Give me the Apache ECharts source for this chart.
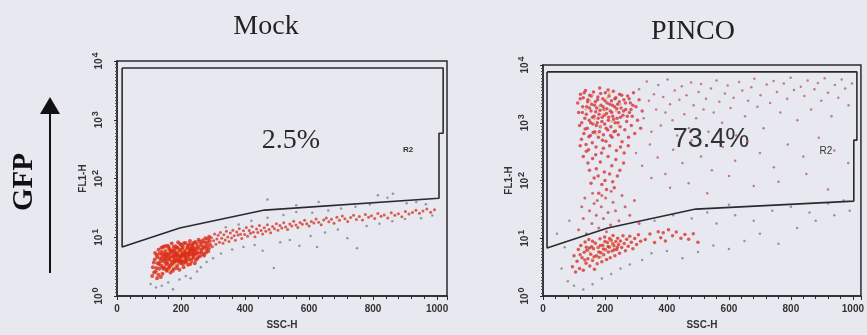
<!DOCTYPE html>
<html>
<head>
<meta charset="utf-8">
<script src="https://cdn.jsdelivr.net/npm/echarts@6/dist/echarts.min.js"></script>
<style>
html, body { margin: 0; background: #e8e8f0; }
#chart { width: 867px; height: 335px; }
</style>
</head>
<body>
<div id="chart"></div>
<script>
// tick labels
var xTicks = [0, 200, 400, 600, 800, 1000];
var yExponents = ['0', '1', '2', '3', '4'];
var panelTitles = ['Mock', 'PINCO'];
var gatePercent = ['2.5%', '73.4%'];

// R2 gates [SSC-H, FL1-H]
var mockGate = [[16,7600],[1019,7600],[1019,590],[1006,590],[1006,46],[461,29],[196,14.4],[16,6.8],[16,7600]];
var pincoGate = [[13,7600],[1013,7600],[1013,500],[1003,500],[1003,44],[493,32],[209,15],[13,6.8],[13,7600]];

// Mock events
var mockCore = [
[112,3.1],[118,4.2],[121,2.6],[124,5.0],[127,3.6],[130,6.1],[132,2.9],[135,4.4],[138,3.3],[140,5.6],[142,2.4],[144,6.8],[146,3.9],[148,4.8],[150,3.0],[151,5.9],[153,4.1],[155,2.7],[157,7.2],[158,3.5],[160,5.2],[162,4.5],[163,6.4],[165,3.2],[167,2.5],[168,5.7],[170,4.0],[171,7.8],[173,3.6],[175,6.0],[176,4.7],[178,2.9],[180,5.4],[181,3.9],[183,7.0],[185,4.3],[186,6.5],[188,3.3],[190,5.0],[191,8.2],[193,4.1],[195,2.8],[196,6.2],[198,4.6],[200,3.6],[201,7.4],[203,5.3],[205,4.0],[207,6.8],[208,3.1],[210,5.7],[212,4.4],[214,8.0],[215,3.7],[217,6.1],[219,4.9],[221,7.1],[222,3.4],[224,5.5],[226,4.2],[228,8.6],[230,6.4],[232,3.9],[234,5.0],[236,7.5],[238,4.6],[240,6.0],[243,3.6],[245,8.3],[247,5.3],[250,4.3],[252,6.9],[255,9.1],[257,5.6],[260,4.8],[262,7.3],[265,6.1],[268,8.8],[270,5.2],[273,7.0],[276,9.6],[279,6.3],[282,8.1],[285,5.8],[288,10.2],[291,7.4],
[115,3.7],[119,5.4],[123,3.0],[126,4.6],[129,2.3],[133,5.3],[136,3.9],[139,6.6],[141,4.3],[143,3.1],[147,5.2],[149,7.0],[152,3.5],[154,4.6],[156,5.5],[159,2.8],[161,6.9],[164,4.2],[166,5.0],[169,3.4],[172,5.6],[174,4.5],[177,6.8],[179,3.7],[182,5.9],[184,4.9],[187,3.0],[189,6.6],[192,5.6],[194,3.8],[197,7.7],[199,5.0],[202,4.4],[204,6.5],[206,3.5],[209,7.9],[211,5.1],[213,3.9],[216,5.8],[218,4.1],[220,6.6],[223,5.2],[225,7.6],[227,4.7],[229,3.5],[231,5.9],[233,7.0],[235,4.4],[237,5.6],[239,8.0],[242,5.0],[244,6.6],[246,4.1],[249,7.7],[251,5.4],[254,4.6],[256,6.4],[259,8.4],[263,5.5],[266,7.9],[269,6.6],[272,4.9],[275,8.2],[278,5.5],[281,7.2],[284,9.3],[287,6.5],[290,8.6],
[110,2.2],[116,2.5],[125,2.0],[131,3.5],[137,2.1],[145,2.9],[150,4.3],[156,3.8],[162,3.0],[168,4.4],[174,2.7],[180,4.1],[186,5.3],[192,4.6],[198,5.8],[204,5.0],[210,4.8],[216,4.5],[222,5.8],[228,5.2],[234,6.2],[240,5.3],[248,6.0],[140,4.9],[154,5.0],[166,6.0],[178,5.0],[190,4.0],[202,3.9],[214,5.2],[226,6.0],[238,6.6]
];
var mockHot = [
[134,4.8],[146,3.4],[158,5.8],[171,4.3],[183,3.5],[196,5.4],[206,4.3],[219,5.9],[231,4.6],[244,7.2],[163,2.7],[188,6.0],[212,6.6],[256,5.9],[270,7.6],[150,6.3],[178,3.2],[226,3.8]
];
var mockTail = [
[295,9.8],[298,6.9],[302,8.7],[305,11.4],[309,7.6],[312,9.3],[316,10.8],[320,8.2],[323,12.0],[327,9.6],[331,7.9],[334,11.0],[338,9.0],[342,12.6],[346,10.1],[350,8.5],[354,11.8],[358,9.7],[362,13.2],[366,10.6],[370,8.9],[374,12.3],[378,10.9],[382,14.0],[386,11.3],[390,9.5],[395,12.9],[399,11.1],[404,14.6],[408,10.4],[413,13.0],[417,11.7],[422,15.2],[426,12.2],[431,10.2],[436,13.8],[440,12.0],[445,15.8],[450,13.0],[455,11.4],[460,14.5],[465,12.7],[470,16.3],[475,13.6],[480,11.9],[486,15.2],[492,14.0],[498,17.0],[503,13.2],[509,15.8],[515,14.4],[521,17.6],[527,15.0],[533,13.5],[540,16.8],[546,15.5],[552,18.7],[559,16.2],[565,14.6],[572,17.9],[579,16.7],[586,19.5],[593,17.0],[600,15.5],[607,18.6],[615,17.4],[622,20.4],[630,18.0],[638,16.4],[646,19.6],[654,21.2],[662,18.3],[670,20.2],[678,17.3],[687,21.8],[695,19.4],[704,22.9],[712,20.6],[721,18.5],[730,21.7],[739,23.8],[748,20.1],[757,22.6],[767,19.6],[776,24.5],[786,21.9],[795,23.3],[805,20.9],[815,25.4],[825,22.7],[835,24.0],[846,21.3],[857,26.2],[868,23.6],[879,25.1],[890,22.4],[901,27.4],[912,24.8],[923,26.3],[934,28.8],[945,25.5],[956,27.9],[968,30.2],[980,26.7],[992,29.4]
];
var mockGray = [
[105,1.6],[122,1.4],[140,1.5],[160,1.7],[175,1.3],[195,1.9],[215,2.2],[230,2.0],[250,2.6],[262,3.1],[280,3.8],[300,4.4],[325,5.3],[360,6.2],[395,6.8],[430,7.4],[455,5.9],[490,3.0],[510,8.2],[540,9.0],[570,7.2],[605,10.5],[625,6.8],[650,12.0],[690,13.5],[720,9.6],[750,6.5],[780,15.5],[820,17.0],[860,18.8],[900,20.5],[950,21.0],[985,23.5],[340,14.8],[380,16.5],[420,19.0],[470,21.5],[520,24.0],[560,27.0],[610,26.0],[660,28.5],[700,31.0],[745,33.0],[790,36.0],[815,52.0],[845,47.0],[862,55.0],[905,38.0],[935,40.0],[965,36.5],[470,44],[560,35],[630,40]
];

// PINCO events
var pincoUpper = [
[112,2200],[118,900],[121,3100],[124,520],[127,1500],[130,2700],[132,650],[135,1200],[137,3600],[139,420],[141,1900],[143,800],[145,2500],[147,340],[149,1100],[151,3000],[153,600],[155,1600],[157,2100],[159,450],[161,950],[163,3400],[165,1300],[167,700],[169,2300],[171,380],[173,1800],[175,1000],[177,2800],[179,560],[181,1400],[183,4000],[185,850],[187,2000],[189,300],[191,1250],[193,2600],[195,620],[197,1700],[199,950],[201,3300],[203,480],[205,1450],[207,2200],[209,750],[211,1100],[213,2900],[215,400],[217,1600],[219,850],[221,2400],[223,560],[225,1300],[227,3500],[229,700],[231,1900],[233,1000],[235,2700],[237,330],[239,1200],[241,2100],[243,620],[245,1500],[247,3100],[249,850],[252,1800],[255,470],[258,1350],[261,2500],[264,760],[267,1700],[270,1050],[273,2900],[276,560],[279,1500],[282,2200],[285,900],[288,1300],[292,3300],[296,650],[300,1900],[305,1100],[310,2500],[315,800],[320,1600],
[115,1500],[120,2600],[125,1000],[128,1900],[133,3300],[136,780],[140,1400],[144,2300],[148,570],[150,1800],[154,1000],[156,2900],[160,1250],[162,680],[166,2000],[170,1550],[172,900],[176,2500],[178,1200],[182,700],[184,1650],[186,3200],[190,1050],[192,500],[194,1900],[198,1350],[200,2400],[204,800],[206,1750],[210,3700],[212,1250],[216,2100],[218,600],[222,1500],[224,2000],[228,1150],[232,2600],[234,720],[238,1750],[242,1000],[246,2300],[250,1250],[254,3000],[260,1600],[266,2200],[272,1300],[278,2600],[284,1700],[290,2000],
[130,260],[145,200],[160,240],[172,160],[185,210],[198,140],[210,260],[222,180],[235,230],[248,150],[262,300],[150,150],[178,120],[200,100],[215,130],[190,85],[165,110],[225,95],[240,120],[205,70],[180,60],[230,75],[155,90],[260,200],[275,400],[140,320],[170,280],[195,360],[120,400],[250,380]
];
var pincoHot = [
[138,1700],[152,2400],[166,1150],[180,1900],[194,1400],[208,2700],[222,1050],[236,1600],[250,2100],[160,3000],[186,850],[214,3200],[244,900],[172,640],[200,1650],
[150,5.8],[175,7.2],[200,6.0],[222,7.6],[188,4.8],[160,4.4],[240,8.4],[212,9.0]
];
var pincoSparse = [
[310,3800],[325,1200],[335,5200],[342,2400],[350,700],[358,3100],[365,1700],[372,4500],[380,900],[388,2800],[395,1500],[402,5600],[410,2100],[418,1100],[425,3600],[433,600],[440,2500],[448,4300],[456,1400],[463,3000],[471,800],[478,5000],[486,2000],[494,1200],[502,3400],[510,4700],[518,1700],[526,2600],[534,700],[542,3900],[551,1500],[560,5400],[569,2300],[578,1000],[587,3200],[596,4400],[605,1800],[615,2700],[624,600],[633,5100],[643,3600],[652,1300],[662,2400],[672,4100],[682,5800],[692,1900],[702,3000],[712,800],[722,4600],[733,2200],[744,5300],[755,3400],[766,1500],[777,4800],[788,2600],[799,6000],[810,3700],[821,1100],[832,4200],[843,2900],[854,5400],[865,1700],[876,3800],[887,4900],[898,2400],[909,5900],[920,3300],[931,1300],[942,4500],[953,2700],[964,5600],[975,3900],[986,2000],[997,4800],
[300,300],[320,180],[345,420],[370,250],[395,130],[420,340],[450,200],[480,500],[510,260],[545,150],[580,380],[620,220],[660,480],[700,300],[745,170],[790,420],[840,260],[890,550],[940,330],[985,200],[350,110],[410,75],[470,90],[530,60],[600,120],[680,80],[760,95],[850,130],[920,70]
];
var pincoLower = [
[95,3.2],[100,5.0],[105,2.6],[110,4.0],[114,6.4],[118,3.0],[122,7.5],[126,4.6],[130,2.8],[133,5.7],[136,8.6],[139,3.7],[142,6.2],[145,4.4],[148,9.5],[151,3.3],[154,5.3],[157,7.1],[160,4.1],[163,6.6],[166,2.9],[169,8.2],[172,5.0],[175,3.6],[178,6.9],[181,4.7],[184,9.8],[187,5.6],[190,3.9],[193,7.6],[196,5.2],[199,10.5],[202,6.3],[205,4.3],[208,8.4],[211,5.8],[214,7.0],[217,4.6],[220,9.2],[223,6.0],[226,11.2],[229,7.4],[232,5.0],[235,8.8],[238,6.4],[241,10.0],[244,7.8],[247,5.5],[250,9.0],[254,6.9],[258,11.0],[262,8.1],[266,6.1],[270,9.6],[275,7.3],[280,10.8],[285,8.5],[290,6.6],[296,9.9],[302,7.8],[308,11.5],[315,8.9],
[120,5.2],[135,4.2],[150,6.8],[165,4.8],[180,5.8],[195,6.5],[210,7.2],[225,8.0],[240,7.0],[160,8.9],[200,8.8],[140,7.0],[185,7.5],[215,9.9],[230,6.3],
[330,9.5],[345,11.8],[360,8.4],[372,13.0],[380,10.2],[388,12.5],[395,9.0],[405,14.0],[418,11.0],[430,12.8],[445,10.0],[458,11.6],[470,9.6],[485,12.0],[500,8.5]
];
var pincoMid = [
[115,14],[130,22],[140,12],[150,30],[158,18],[165,40],[172,25],[180,15],[188,35],[195,22],[202,50],[210,28],[218,17],[226,42],[234,30],[245,20],[255,55],[265,35],[280,25],[295,45],[310,18],[135,50],[160,60],[190,55],[220,65],[125,35],[205,13],[175,45]
];
var pincoGray = [
[80,1.8],[100,1.5],[130,1.3],[160,1.6],[190,2.0],[220,2.4],[250,3.0],[280,3.5],[320,4.2],[350,5.5],[400,6.0],[450,4.5],[500,5.8],[550,7.5],[600,6.5],[650,9.0],[700,12.0],[760,8.0],[820,15.0],[880,20.0],[940,25.0],[990,30.0],[560,18],[620,25],[680,20],[740,30],[800,35],[860,28],[920,40],[970,45],[530,28],[600,38],[480,22],[420,25],[360,20],[60,3],[70,7],[45,12],[85,20]
];

var chart = echarts.init(document.getElementById('chart'));
var ink = '#2a2a2e';
var tickFont = { color: '#333', fontSize: 10, fontFamily: 'Liberation Sans', fontWeight: 'bold' };

function xAxisFor(i, max) {
    return {
        gridIndex: i, type: 'value', min: 0, max: max, interval: 200,
        name: 'SSC-H', nameLocation: 'middle', nameGap: 24,
        nameTextStyle: tickFont,
        axisLine: { lineStyle: { color: ink, width: 1.5 } },
        axisTick: { length: 4, lineStyle: { color: ink } },
        minorTick: { show: true, splitNumber: 5, length: 3, lineStyle: { color: ink } },
        splitLine: { show: false },
        axisLabel: Object.assign({ margin: 8, formatter: function (v) {
            return xTicks.indexOf(v) >= 0 ? v : '';
        } }, tickFont)
    };
}
function yAxisFor(i) {
    return {
        gridIndex: i, type: 'log', logBase: 10, min: 1, max: 10000,
        name: 'FL1-H', nameLocation: 'middle', nameGap: 29, nameRotate: 90,
        nameTextStyle: tickFont,
        axisLine: { lineStyle: { color: ink, width: 1.5 } },
        axisTick: { length: 3, lineStyle: { color: ink } },
        splitLine: { show: false },
        axisLabel: {
            rotate: 90, margin: 10,
            formatter: function (v) {
                return '{b|10}{s|' + yExponents[Math.round(Math.log10(v))] + '}';
            },
            rich: {
                b: { fontSize: 10, fontFamily: 'Liberation Sans', color: '#333', fontWeight: 'bold' },
                s: { fontSize: 9, fontFamily: 'Liberation Sans', color: '#333', fontWeight: 'bold', padding: [0, 0, 7, 1] }
            }
        }
    };
}
// dense hash of minor ticks along the log axis edge
function hashAxis(i) {
    return {
        gridIndex: i, type: 'value', min: 0, max: 4, interval: 1, position: 'left',
        axisLine: { show: false }, axisLabel: { show: false }, splitLine: { show: false },
        axisTick: { show: false },
        minorTick: { show: true, splitNumber: 18, length: 2, lineStyle: { color: '#555', width: 1 } }
    };
}
function dots(i, data, color, size) {
    return {
        type: 'scatter', xAxisIndex: i, yAxisIndex: i, data: data,
        symbolSize: size, itemStyle: { color: color }, silent: true, z: 2
    };
}
function gate(i, data) {
    return {
        type: 'line', xAxisIndex: i, yAxisIndex: i, data: data,
        showSymbol: false, lineStyle: { color: ink, width: 1.6 }, silent: true, z: 3
    };
}

var option = {
    backgroundColor: '#e8e8f0',
    animation: false,
    grid: [
        { left: 117, top: 61, width: 330, height: 235, show: true, borderColor: ink, borderWidth: 1.5 },
        { left: 543, top: 65, width: 320, height: 231, show: true, borderColor: ink, borderWidth: 1.5 }
    ],
    xAxis: [xAxisFor(0, 1031), xAxisFor(1, 1026)],
    yAxis: [yAxisFor(0), yAxisFor(1), hashAxis(0), hashAxis(1)],
    series: [
        dots(0, mockGray, '#80808e', 2.5),
        dots(0, mockTail, '#d63a2a', 3),
        dots(0, mockCore, '#dc2a18', 4),
        dots(0, mockHot, '#f0a040', 2.5),
        gate(0, mockGate),
        dots(1, pincoGray, '#80808e', 2.5),
        dots(1, pincoSparse, '#b8606a', 2.5),
        dots(1, pincoMid, '#c84a52', 3),
        dots(1, pincoUpper, '#d4343c', 3.5),
        dots(1, pincoLower, '#d6342c', 3.5),
        dots(1, pincoHot, '#eea050', 2.5),
        gate(1, pincoGate)
    ],
    graphic: [
        { type: 'text', x: 266, y: 27, style: { text: panelTitles[0], font: '28px "Liberation Serif"', fill: '#222', textAlign: 'center', textVerticalAlign: 'middle' } },
        { type: 'text', x: 693, y: 32, style: { text: panelTitles[1], font: '28px "Liberation Serif"', fill: '#222', textAlign: 'center', textVerticalAlign: 'middle' } },
        { type: 'text', x: 291, y: 141, style: { text: gatePercent[0], font: '28px "Liberation Serif"', fill: '#2a2a2a', textAlign: 'center', textVerticalAlign: 'middle' } },
        { type: 'text', x: 711, y: 140, style: { text: gatePercent[1], font: '27px "Liberation Sans"', fill: '#333', textAlign: 'center', textVerticalAlign: 'middle' } },
        { type: 'text', x: 408, y: 150, style: { text: 'R2', font: 'bold 8px "Liberation Sans"', fill: '#333', textAlign: 'center', textVerticalAlign: 'middle' } },
        { type: 'text', x: 826, y: 151, style: { text: 'R2', font: '10px "Liberation Sans"', fill: '#333', textAlign: 'center', textVerticalAlign: 'middle' } },
        { type: 'text', x: 25, y: 182, rotation: Math.PI / 2, style: { text: 'GFP', font: 'bold 29px "Liberation Serif"', fill: '#111', textAlign: 'center', textVerticalAlign: 'middle' } },
        { type: 'line', shape: { x1: 50, y1: 273, x2: 50, y2: 110 }, style: { stroke: '#111', lineWidth: 2 } },
        { type: 'polygon', shape: { points: [[50, 97], [40, 114], [60, 114]] }, style: { fill: '#111' } }
    ]
};
chart.setOption(option);
</script>
</body>
</html>
